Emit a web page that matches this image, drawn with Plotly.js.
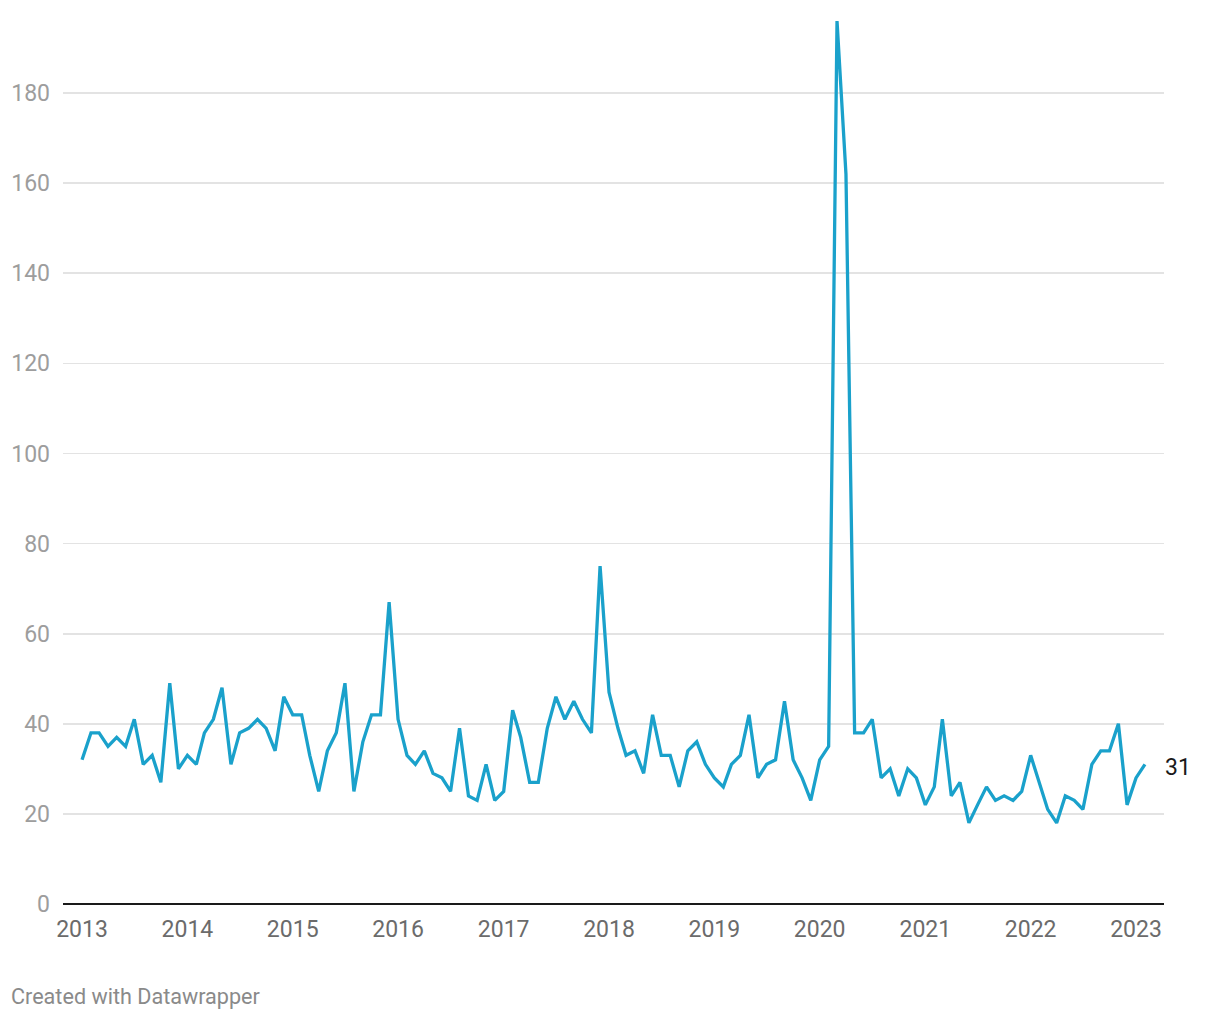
<!DOCTYPE html>
<html>
<head>
<meta charset="utf-8">
<script src="https://cdn.plot.ly/plotly-3.0.1.min.js"></script>
<style>
  html, body { margin: 0; padding: 0; background: #ffffff; }
  #chart { width: 1220px; height: 1020px; }
</style>
</head>
<body>
<div id="chart"></div>
<script>
// Monthly values
const years = [2013, 2014, 2015, 2016, 2017, 2018, 2019, 2020, 2021, 2022, 2023];
const monthNums = ["01","02","03","04","05","06","07","08","09","10","11","12"];
const v2013 = [32, 38, 38, 35, 37, 35, 41, 31, 33, 27, 49, 30];
const v2014 = [33, 31, 38, 41, 48, 31, 38, 39, 41, 39, 34, 46];
const v2015 = [42, 42, 33, 25, 34, 38, 49, 25, 36, 42, 42, 67];
const v2016 = [41, 33, 31, 34, 29, 28, 25, 39, 24, 23, 31, 23];
const v2017 = [25, 43, 37, 27, 27, 39, 46, 41, 45, 41, 38, 75];
const v2018 = [47, 39, 33, 34, 29, 42, 33, 33, 26, 34, 36, 31];
const v2019 = [28, 26, 31, 33, 42, 28, 31, 32, 45, 32, 28, 23];
const v2020 = [32, 35, 196, 162, 38, 38, 41, 28, 30, 24, 30, 28];
const v2021 = [22, 26, 41, 24, 27, 18, 22, 26, 23, 24, 23, 25];
const v2022 = [33, 27, 21, 18, 24, 23, 21, 31, 34, 34, 40, 22];
const v2023 = [28, 31];
const yearValues = [v2013, v2014, v2015, v2016, v2017, v2018, v2019, v2020, v2021, v2022, v2023];
const yTicks = [0, 20, 40, 60, 80, 100, 120, 140, 160, 180];
const xTickYears = ["2013","2014","2015","2016","2017","2018","2019","2020","2021","2022","2023"];

const xs = [], ys = [];
years.forEach((yr, i) => {
  yearValues[i].forEach((v, m) => {
    xs.push(yr + "-" + monthNums[m] + "-01");
    ys.push(v);
  });
});

const lineColor = "#1aa1cb";

const trace = {
  x: xs, y: ys, type: "scatter", mode: "lines",
  line: { color: lineColor, width: 3.3, shape: "linear" },
  hoverinfo: "x+y"
};

const layout = {
  width: 1220, height: 1020,
  margin: { l: 63, r: 56, t: 3, b: 116 },
  paper_bgcolor: "#ffffff", plot_bgcolor: "#ffffff",
  showlegend: false,
  font: { family: "Roboto, 'Noto Sans', sans-serif", size: 23, color: "#666666" },
  xaxis: {
    type: "date",
    range: ["2012-10-27", "2023-04-08"],
    tickvals: xTickYears.map(y => y + "-01-01"),
    ticktext: xTickYears,
    showgrid: false, zeroline: false, showline: false,
    ticks: "", ticklabelstandoff: 9,
    tickfont: { family: "Roboto, sans-serif", size: 23, color: "#6b6b6b" }
  },
  yaxis: {
    range: [0, 200],
    tickvals: yTicks,
    ticktext: yTicks.map(String),
    showgrid: true, gridcolor: "#e3e3e3", gridwidth: 1.6,
    zeroline: true, zerolinecolor: "#1a1a1a", zerolinewidth: 2.5,
    showline: false, ticks: "", ticklabelstandoff: 12,
    tickfont: { family: "Roboto, sans-serif", size: 23, color: "#9d9d9d" }
  },
  annotations: [
    {
      x: xs[xs.length - 1], y: ys[ys.length - 1], xref: "x", yref: "y",
      text: String(ys[ys.length - 1]), showarrow: false,
      xanchor: "left", yanchor: "middle", xshift: 18, yshift: -3,
      font: { family: "Roboto, sans-serif", size: 23, color: "#1a1a1a" }
    },
    {
      x: -0.0494, y: -0.1030, xref: "paper", yref: "paper",
      text: "Created with Datawrapper", showarrow: false,
      xanchor: "left", yanchor: "middle",
      font: { family: "Roboto, sans-serif", size: 21.6, color: "#8a8a8a" }
    }
  ]
};

Plotly.newPlot("chart", [trace], layout, { displayModeBar: false, staticPlot: true });
</script>
</body>
</html>
